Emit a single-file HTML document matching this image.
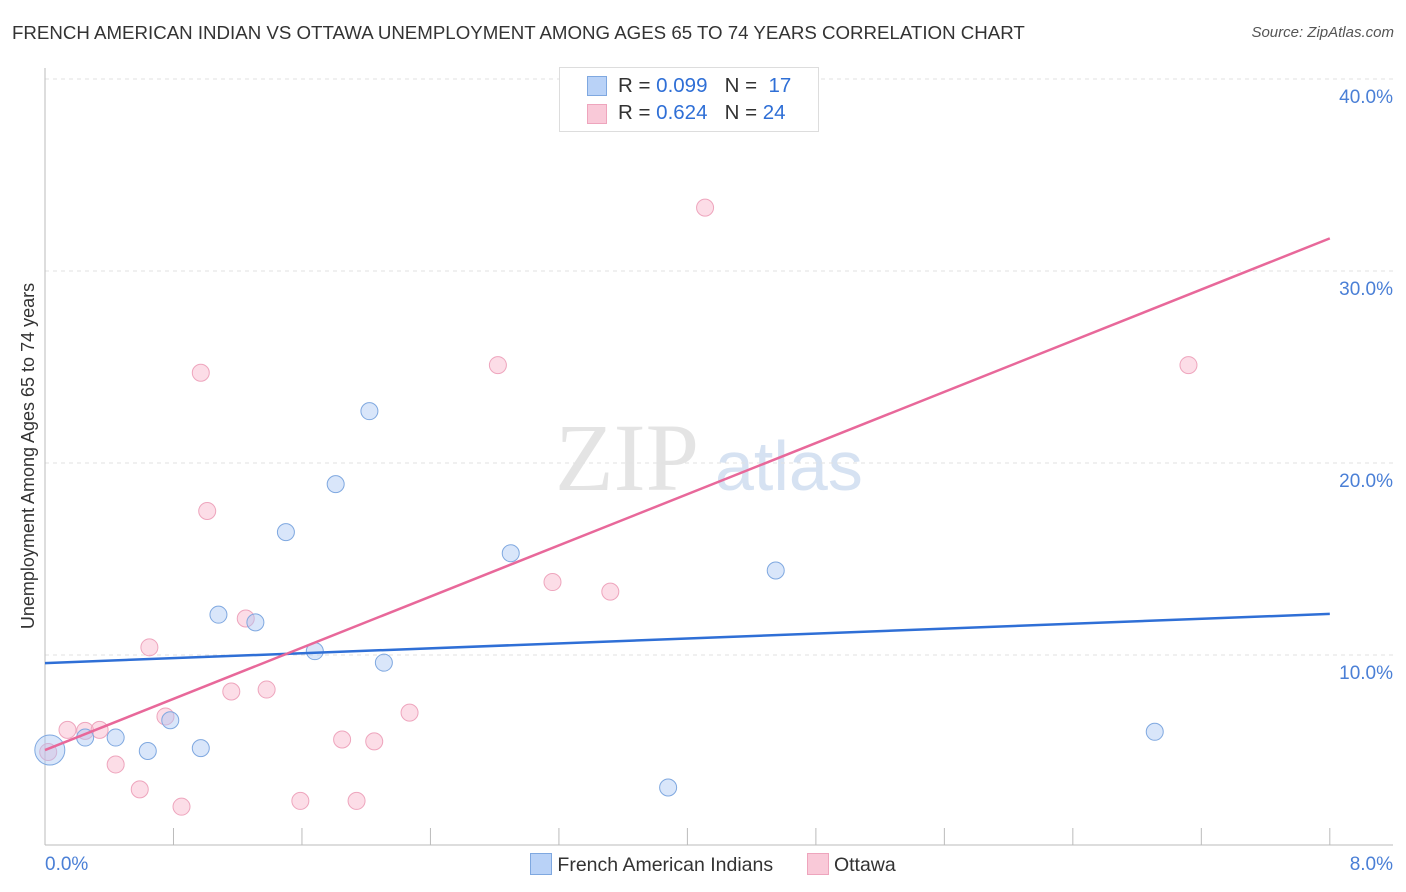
<!DOCTYPE html>
<html><head><meta charset="utf-8"><style>
body{margin:0;background:#fff;font-family:"Liberation Sans",sans-serif}
#c{position:relative;width:1406px;height:892px}
.t{position:absolute;white-space:nowrap}
</style></head><body>
<div id="c">
<div class="t" style="left:12px;top:22px;font-size:18.7px;color:#333">FRENCH AMERICAN INDIAN VS OTTAWA UNEMPLOYMENT AMONG AGES 65 TO 74 YEARS CORRELATION CHART</div>
<div class="t" style="right:12px;top:24px;font-size:15px;color:#555;font-style:italic">Source: ZipAtlas.com</div>
<svg id="s" width="1406" height="892" style="position:absolute;left:0;top:0"></svg>
</div>
<script>
const xTicks=[0,0.8,1.6,2.4,3.2,4,4.8,5.6,6.4,7.2,8];
const yTicks=[10,20,30,40];
const yTickLabels=["10.0%","20.0%","30.0%","40.0%"];
const blueX=[0.03,0.25,0.44,0.64,0.78,0.97,1.08,1.31,1.50,1.68,1.81,2.02,2.11,2.90,3.88,4.55,6.91];
const blueY=[5.05,5.7,5.7,5.0,6.6,5.15,12.1,11.7,16.4,10.2,18.9,22.7,9.6,15.3,3.1,14.4,6.0];
const pinkX=[0.02,0.14,0.25,0.34,0.44,0.59,0.65,0.75,0.85,0.97,1.01,1.16,1.25,1.38,1.59,1.85,1.94,2.05,2.27,2.82,3.16,3.52,4.11,7.12];
const pinkY=[4.95,6.1,6.05,6.1,4.3,3.0,10.4,6.8,2.1,24.7,17.5,8.1,11.9,8.2,2.4,5.6,2.4,5.5,7.0,25.1,13.8,13.3,33.3,25.1];
const blueTrend=[9.58,12.14];
const pinkTrend=[5.05,31.7];
const X=v=>45+v*160.6, Y=v=>847-v*19.2;
const s=document.getElementById('s');const NS='http://www.w3.org/2000/svg';
function el(t,a,p){const e=document.createElementNS(NS,t);for(const k in a)e.setAttribute(k,a[k]);(p||s).appendChild(e);return e;}
let w=el('text',{x:555,y:490,'font-size':96,fill:'#e4e4e4','font-family':'Liberation Serif'});w.textContent='ZIP';


let w2=el('text',{x:715,y:490,'font-size':70,fill:'#d6e2f2','font-family':'Liberation Sans'});w2.textContent='atlas';


yTicks.forEach((v,i)=>{
 let g=el('line',{x1:45,x2:1393,y1:Y(v),y2:Y(v),stroke:'#e2e2e2','stroke-dasharray':'4,4'});
 
 
 let t=el('text',{x:1393,y:Y(v)+24,'text-anchor':'end','font-size':19,fill:'#4a7fd6'});t.textContent=yTickLabels[i];
 
 
});
let ya=el('line',{x1:45,x2:45,y1:68,y2:845,stroke:'#bbb'});


let xa=el('line',{x1:45,x2:1393,y1:845,y2:845,stroke:'#bbb'});


xTicks.forEach(v=>{let t=el('line',{x1:X(v),x2:X(v),y1:828,y2:845,stroke:'#bbb'});
 
 });
[[0,'0.0%','start',45],[8,'8.0%','end',1393]].forEach(a=>{let t=el('text',{x:a[3],y:870,'text-anchor':a[2],'font-size':19,fill:'#4a7fd6'});t.textContent=a[1];
 
 });
let yt=el('text',{x:34,y:456,'text-anchor':'middle','font-size':18,fill:'#333',transform:'rotate(-90 34 456)'});yt.textContent='Unemployment Among Ages 65 to 74 years';


pinkX.forEach((x,i)=>{let c=el('circle',{cx:X(x),cy:Y(pinkY[i]),r:8.5,fill:'rgba(248,180,202,0.45)',stroke:'#eea5bd','stroke-width':1});
 
 });
blueX.forEach((x,i)=>{let c=el('circle',{cx:X(x),cy:Y(blueY[i]),r:i==0?15:8.5,fill:'rgba(170,200,245,0.45)',stroke:'#7fa8e0','stroke-width':1});
 
 });
let bl=el('line',{x1:X(0),x2:X(8),y1:Y(blueTrend[0]),y2:Y(blueTrend[1]),stroke:'#2f6fd6','stroke-width':2.5});


let pl=el('line',{x1:X(0),x2:X(8),y1:Y(pinkTrend[0]),y2:Y(pinkTrend[1]),stroke:'#e8689a','stroke-width':2.5});


</script>
<div class="t" style="left:559px;top:67px;width:258px;height:63px;border:1px solid #ddd;background:#fff;font-size:20.5px;color:#333">
 <div style="position:absolute;left:27px;top:8px;width:18px;height:18px;background:#b9d2f7;border:1px solid #7fa8e0"></div>
 <div style="position:absolute;left:58px;top:6px">R = <span style="color:#2f6fd6">0.099</span>&nbsp;&nbsp;&nbsp;N = &nbsp;<span style="color:#2f6fd6">17</span></div>
 <div style="position:absolute;left:27px;top:36px;width:18px;height:18px;background:#f9c9d8;border:1px solid #eea5bd"></div>
 <div style="position:absolute;left:58px;top:33px">R = <span style="color:#2f6fd6">0.624</span>&nbsp;&nbsp;&nbsp;N = <span style="color:#2f6fd6">24</span></div>
</div>
<div class="t" style="left:530px;top:853px;font-size:19.5px;color:#333">
 <span style="display:inline-block;width:20px;height:20px;background:#b9d2f7;border:1px solid #7fa8e0;vertical-align:-4px"></span> French American Indians
 <span style="display:inline-block;width:20px;height:20px;background:#f9c9d8;border:1px solid #eea5bd;vertical-align:-4px;margin-left:28px"></span> Ottawa
</div>
</body></html>
